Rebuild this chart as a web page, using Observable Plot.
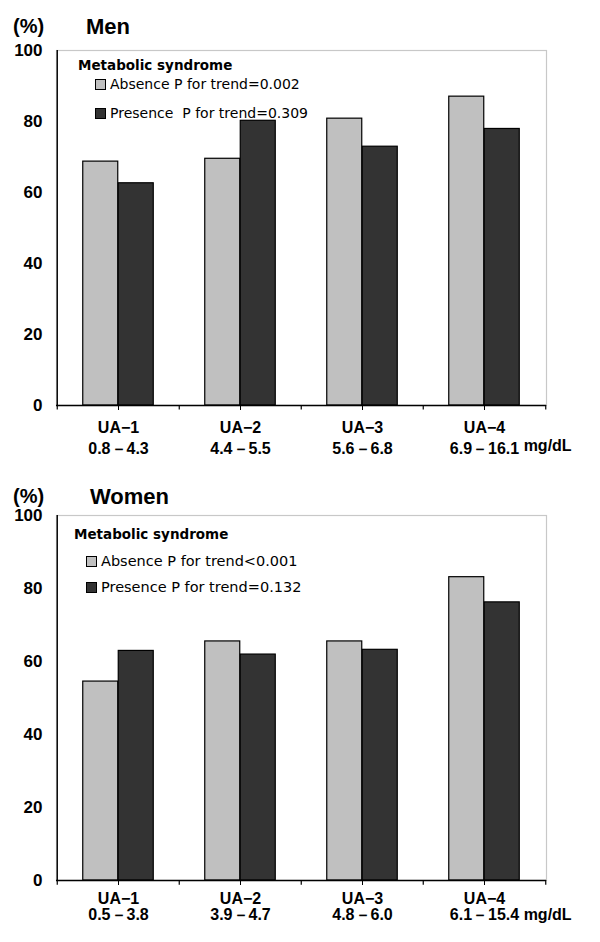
<!DOCTYPE html>
<html>
<head>
<meta charset="utf-8">
<script src="https://cdn.jsdelivr.net/npm/d3@7"></script>
<script src="https://cdn.jsdelivr.net/npm/@observablehq/plot@0.6"></script>
<style>
  html, body { margin: 0; padding: 0; background: #fff; }
  #root { width: 600px; height: 942px; position: relative; }
  .panel { position: relative; width: 600px; }
  .panel svg { display: block; }
  .abs { position: absolute; white-space: pre; color: #000; line-height: 1; }
  .unit { font: bold 20px "Liberation Sans", Arial, sans-serif; }
  .title { font: bold 22px "Liberation Sans", Arial, sans-serif; }
  .lgtitle { font: bold 13.5px "DejaVu Sans", sans-serif; }
  .lgitem { font: 14px "DejaVu Sans", sans-serif; display: flex; align-items: center; }
  .sw { width: 9px; height: 9px; border: 1px solid #000; margin-right: 4px; }
</style>
</head>
<body>
<div id="root"></div>
<script>
// ---- data ----
const categories = ["UA\u22121", "UA\u22122", "UA\u22123", "UA\u22124"];
const series = ["Absence", "Presence"];
const menRanges = ["0.8\uFF0D4.3", "4.4\uFF0D5.5", "5.6\uFF0D6.8", "6.9\uFF0D16.1"];
const womenRanges = ["0.5\uFF0D3.8", "3.9\uFF0D4.7", "4.8\uFF0D6.0", "6.1\uFF0D15.4"];
const menAbsence = [68.7, 69.5, 80.8, 87.0];
const menPresence = [62.6, 80.2, 72.9, 77.9];
const womenAbsence = [54.5, 65.5, 65.5, 83.1];
const womenPresence = [62.9, 61.9, 63.2, 76.2];
const yTicks = [0, 20, 40, 60, 80, 100];
const legendTitle = "Metabolic syndrome";
const menLegend = ["Absence P for trend=0.002", "Presence  P for trend=0.309"];
const womenLegend = ["Absence P for trend<0.001", "Presence P for trend=0.132"];
const unitLabel = "mg/dL";
const seriesColors = ["#c0c0c0", "#333333"];

// ---- layout ----
const W = 600, ML = 56, MR = 54;
const bw = (W - ML - MR) / categories.length;
const barW = 35.5;
const outer = (bw - 2 * barW) / 2;
const FONT = '"Liberation Sans", Arial, sans-serif';
const AXIS_FS = 16;
const YAXIS_FS = 17;

const ctx = document.createElement("canvas").getContext("2d");
function textWidth(t, size) {
  ctx.font = `bold ${size}px ${FONT}`;
  return ctx.measureText(t).width;
}

function panel(cfg) {
  const rows = categories.flatMap((c, i) => [
    {cat: c, series: series[0], value: cfg.absence[i]},
    {cat: c, series: series[1], value: cfg.presence[i]}
  ]);
  const last = categories[categories.length - 1];
  const unitDx = textWidth(cfg.ranges[categories.length - 1], AXIS_FS) / 2 + textWidth(" ", AXIS_FS);
  const svg = Plot.plot({
    width: W, height: cfg.height,
    marginTop: cfg.marginTop, marginBottom: cfg.marginBottom,
    marginLeft: ML, marginRight: MR,
    style: {fontFamily: FONT, fontSize: AXIS_FS + "px", fontWeight: "bold", color: "#000", background: "#fff", overflow: "visible"},
    x: {domain: categories, paddingInner: 0, paddingOuter: 0, axis: null},
    y: {domain: [0, 100], axis: null},
    color: {domain: series, range: seriesColors},
    marks: [
      Plot.frame({stroke: "#c8c8c8", strokeWidth: 1.2}),
      Plot.barY(rows.filter(d => d.series === series[0]), {x: "cat", y: "value", fill: "series", stroke: "#000", strokeWidth: 1.2, insetLeft: outer, insetRight: bw - outer - barW}),
      Plot.barY(rows.filter(d => d.series === series[1]), {x: "cat", y: "value", fill: "series", stroke: "#000", strokeWidth: 1.2, insetLeft: outer + barW, insetRight: outer}),
      Plot.ruleX([categories[0]], {dx: -bw / 2, stroke: "#000", strokeWidth: 1.4}),
      Plot.ruleY([0], {stroke: "#000", strokeWidth: 1.4}),
      // inward y ticks
      Plot.tickY(yTicks, {y: d => d, x: categories[0], stroke: "#000", strokeWidth: 1.2, insetLeft: 0, insetRight: bw - 6}),
      Plot.axisY({ticks: yTicks, tickSize: 0, tickPadding: 14, label: null, fontSize: YAXIS_FS}),
      // x ticks at band boundaries
      Plot.ruleX(categories, {x: d => d, dx: -bw / 2, y1: 0, y2: -1.3, stroke: "#000", strokeWidth: 1.2}),
      Plot.ruleX([last], {dx: bw / 2, y1: 0, y2: -1.3, stroke: "#000", strokeWidth: 1.2}),
      Plot.axisX({tickSize: 5, tickPadding: cfg.tickPadding, label: null, fontSize: AXIS_FS, lineHeight: cfg.lineHeight,
        tickFormat: (d) => d + "\n" + cfg.ranges[categories.indexOf(d)]}),
      Plot.text([last], {x: d => d, frameAnchor: "bottom", text: () => unitLabel, textAnchor: "start", lineAnchor: "top",
        dx: unitDx, dy: 5 + cfg.tickPadding + AXIS_FS * cfg.lineHeight, fontSize: AXIS_FS})
    ]
  });
  const wrap = document.createElement("div");
  wrap.className = "panel";
  wrap.style.height = cfg.height + "px";
  wrap.append(svg);
  const add = (cls, text, left, top) => {
    const el = document.createElement("div");
    el.className = "abs " + cls;
    el.textContent = text;
    el.style.left = left + "px";
    el.style.top = top + "px";
    wrap.append(el);
    return el;
  };
  add("unit", "(%)", 13, 15);
  add("title", cfg.title, cfg.titleX, 13.5);
  add("lgtitle", legendTitle, cfg.lgX, cfg.lgY);
  cfg.legend.forEach((t, i) => {
    const el = document.createElement("div");
    el.className = "abs lgitem";
    el.style.left = cfg.itemX + "px";
    el.style.top = (cfg.itemY + i * cfg.itemGap) + "px";
    el.style.fontSize = cfg.itemFont + "px";
    const sw = document.createElement("span");
    sw.className = "sw";
    sw.style.background = seriesColors[i];
    const tx = document.createElement("span");
    tx.textContent = t;
    el.append(sw, tx);
    wrap.append(el);
  });
  return wrap;
}

const root = document.getElementById("root");
root.append(panel({
  title: "Men", titleX: 86, ranges: menRanges, absence: menAbsence, presence: menPresence,
  legend: menLegend, height: 470, marginTop: 50, marginBottom: 65, tickPadding: 8, lineHeight: 1.3,
  lgX: 78, lgY: 57, itemX: 95, itemY: 76, itemGap: 29, itemFont: 14
}));
root.append(panel({
  title: "Women", titleX: 90, ranges: womenRanges, absence: womenAbsence, presence: womenPresence,
  legend: womenLegend, height: 472, marginTop: 45, marginBottom: 62, tickPadding: 7, lineHeight: 1.0,
  lgX: 74, lgY: 56, itemX: 86, itemY: 83, itemGap: 26, itemFont: 14.5
}));
</script>
</body>
</html>
